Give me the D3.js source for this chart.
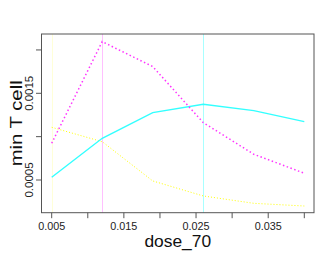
<!DOCTYPE html>
<html>
<head>
<meta charset="utf-8">
<script src="https://cdn.jsdelivr.net/npm/d3@7"></script>
<style>
  body { margin: 0; background: white; }
  svg { display: block; }
</style>
</head>
<body>
<svg id="chart" width="332" height="257"></svg>
<script>
var dose = [0.005, 0.012, 0.019, 0.026, 0.033, 0.040];
var magenta_vals = [0.000924, 0.002096, 0.001808, 0.001162, 0.000797, 0.000578];
var cyan_vals = [0.000531, 0.000981, 0.001277, 0.001374, 0.0013, 0.001173];
var yellow_vals = [0.001108, 0.000942, 0.000489, 0.000316, 0.000231, 0.0002];
var x_ticks = [0.005, 0.010, 0.015, 0.020, 0.025, 0.030, 0.035, 0.040];
var x_labels = [0.005, 0.015, 0.025, 0.035];
var y_ticks = [0.0005, 0.0010, 0.0015, 0.0020];
var y_labels = [0.0005, 0.0015];

var svg = d3.select('#chart');
var box = {left: 41.5, right: 314, top: 34, bottom: 212.7};
var axis_color = '#555';
var font = 'Liberation Sans, Arial, sans-serif';

var x = d3.scaleLinear().domain([0.005, 0.040]).range([51.7, 304.3]);
var y = d3.scaleLinear().domain([0.0005, 0.0015]).range([180, 93.3]);

var series = [
  {vals: yellow_vals, color: '#ffff00', vcolor: '#ffffd8', width: 1, dash: '1,2'},
  {vals: cyan_vals, color: '#33ffff', vcolor: '#a8ffff', width: 1.4, dash: null},
  {vals: magenta_vals, color: '#ff33ff', vcolor: '#ffc0ff', width: 1.5, dash: '1.5,2.5'}
];

// vertical lines at each series' max
series.forEach(function(s){
  var i_max = d3.maxIndex(s.vals);
  var xv = Math.round(x(dose[i_max])) + 0.5;
  svg.append('line')
    .attr('x1', xv).attr('x2', xv)
    .attr('y1', box.top).attr('y2', box.bottom)
    .attr('stroke', s.vcolor)
    .attr('stroke-width', 1);
});

var line = d3.line()
  .x(function(d, i){ return x(dose[i]); })
  .y(function(d){ return y(d); });

series.forEach(function(s){
  svg.append('path')
    .datum(s.vals)
    .attr('d', line)
    .attr('fill', 'none')
    .attr('stroke', s.color)
    .attr('stroke-width', s.width)
    .attr('stroke-dasharray', s.dash);
});

// frame
svg.append('rect')
  .attr('x', box.left).attr('y', box.top)
  .attr('width', box.right - box.left).attr('height', box.bottom - box.top)
  .attr('fill', 'none')
  .attr('stroke', axis_color)
  .attr('stroke-width', 1);

// x axis
svg.selectAll('.xtick')
  .data(x_ticks)
  .enter()
  .append('line')
  .attr('x1', function(d){ return x(d); })
  .attr('x2', function(d){ return x(d); })
  .attr('y1', box.bottom)
  .attr('y2', box.bottom + 5.5)
  .attr('stroke', axis_color);

svg.selectAll('.xlab')
  .data(x_labels)
  .enter()
  .append('text')
  .attr('x', function(d){ return x(d); })
  .attr('y', 229.5)
  .attr('text-anchor', 'middle')
  .style('font-family', font)
  .style('font-size', '10.8px')
  .style('fill', '#222')
  .text(function(d){ return d3.format('.3f')(d); });

// y axis
svg.selectAll('.ytick')
  .data(y_ticks)
  .enter()
  .append('line')
  .attr('x1', box.left - 5.5)
  .attr('x2', box.left)
  .attr('y1', function(d){ return y(d); })
  .attr('y2', function(d){ return y(d); })
  .attr('stroke', axis_color);

svg.selectAll('.ylab')
  .data(y_labels)
  .enter()
  .append('text')
  .attr('transform', function(d){ return 'translate(33,' + y(d) + ') rotate(-90)'; })
  .attr('text-anchor', 'middle')
  .attr('textLength', 35)
  .attr('lengthAdjust', 'spacingAndGlyphs')
  .style('font-family', font)
  .style('font-size', '10px')
  .style('fill', '#222')
  .text(function(d){ return d3.format('.4f')(d); });

// titles
svg.append('text')
  .attr('x', (box.left + box.right) / 2)
  .attr('y', 247)
  .attr('text-anchor', 'middle')
  .style('font-family', font)
  .style('font-size', '17.4px')
  .style('fill', '#111')
  .text('dose_70');

svg.append('text')
  .attr('transform', 'translate(22,' + (box.top + box.bottom) / 2 + ') rotate(-90)')
  .attr('text-anchor', 'middle')
  .attr('textLength', 86)
  .attr('lengthAdjust', 'spacingAndGlyphs')
  .style('font-family', font)
  .style('font-size', '17.4px')
  .style('fill', '#111')
  .text('min T cell');
</script>
</body>
</html>
